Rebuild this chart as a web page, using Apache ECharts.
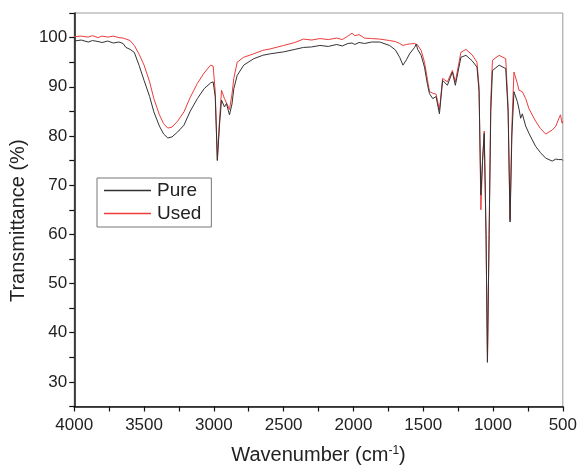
<!DOCTYPE html>
<html>
<head>
<meta charset="utf-8">
<script src="https://cdn.jsdelivr.net/npm/echarts@6/dist/echarts.min.js"></script>
<style>html,body{margin:0;padding:0;background:#fff}#c{width:580px;height:470px}</style>
</head>
<body>
<div id="c"></div>
<script>
// Wavenumber (cm-1), shared by both spectra
var wavenumber = [4000,3950,3900,3870,3830,3800,3760,3720,3680,3650,3630,3600,3570,3535,3500,3460,3430,3390,3360,3330,3300,3260,3214,3170,3118,3070,3023,3005,2990,2975,2960,2945,2924,2910,2888,2870,2857,2833,2786,2715,2650,2596,2500,2420,2358,2300,2240,2180,2120,2080,2040,2010,1990,1960,1920,1870,1812,1741,1700,1669,1645,1620,1598,1562,1550,1540,1515,1491,1470,1455,1432,1408,1384,1361,1327,1291,1270,1230,1194,1150,1115,1100,1087,1075,1063,1050,1040,1028,1016,1004,956,909,892,878,865,850,826,814,802,790,766,742,695,660,623,576,550,529,517,505,500];
var pure = [99.3,99.5,99.1,99.4,99.2,99.0,99.3,98.9,99.1,98.8,98.0,97.6,97.0,94.3,91.3,88.0,84.9,82.0,80.4,79.6,79.8,80.8,82.2,85.0,87.6,89.6,90.8,91.0,88.0,75.0,82.0,87.3,85.9,86.6,84.3,86.5,89.6,92.3,94.4,95.7,96.4,96.7,97.1,97.6,98.0,98.1,98.4,98.2,98.6,98.3,98.8,98.9,98.6,99.0,98.8,99.1,99.1,98.4,97.5,96.0,94.4,95.5,96.7,98.0,98.7,97.6,96.4,94.0,90.5,88.6,87.6,88.0,84.5,91.3,90.3,93.0,90.3,96.0,96.4,95.3,94.0,89.0,68.0,75.0,80.5,60.0,34.0,60.0,85.0,93.3,94.4,93.7,85.0,62.5,80.0,89.0,87.0,85.5,83.6,84.5,82.0,80.5,77.9,76.6,75.5,74.9,75.3,75.2,74.8,75.2,75.0];
var used = [100.2,100.3,100.1,100.4,100.0,100.3,100.1,100.3,100.0,99.9,99.7,99.4,98.4,96.6,94.4,91.0,87.6,84.3,82.5,81.6,81.8,83.0,84.9,87.8,90.7,92.8,94.4,94.2,89.0,75.2,83.0,89.3,87.6,88.0,85.4,88.5,91.7,95.0,96.0,96.7,97.4,97.7,98.4,99.0,99.7,99.5,99.8,99.6,99.9,99.6,100.3,100.9,100.4,100.6,99.9,99.8,99.7,99.4,99.2,98.8,98.4,98.6,98.7,98.8,98.9,98.5,97.4,95.0,91.5,89.0,88.7,88.5,85.3,91.7,91.0,93.3,91.0,97.0,97.6,96.5,95.0,90.0,65.0,75.0,81.0,60.0,34.0,60.0,87.3,95.4,96.4,95.7,86.0,63.0,82.0,93.0,90.7,89.3,89.6,89.0,87.6,85.5,83.0,81.5,80.4,81.2,82.0,83.5,84.3,82.6,83.0];
var seriesNames = ['Pure','Used'];
var xTickLabels = [4000,3500,3000,2500,2000,1500,1000,500];
var yTickLabels = [30,40,50,60,70,80,90,100];

function pairs(vals){ return wavenumber.map(function(w,i){ return [w, vals[i]]; }); }

var chart = echarts.init(document.getElementById('c'), null, {renderer:'canvas'});
var font = 'Liberation Sans, Arial, sans-serif';
chart.setOption({
  animation: false,
  backgroundColor: '#fff',
  grid: {left: 73, right: 16, top: 13, bottom: 62, show: true, borderColor: '#9a9a9a', borderWidth: 1},
  legend: {
    orient: 'vertical', left: 97, top: 178,
    data: seriesNames,
    icon: 'rect', itemWidth: 47, itemHeight: 1.5, itemGap: 4,
    borderColor: '#777', borderWidth: 1, padding: [3, 10, 4, 7],
    textStyle: {fontFamily: font, fontSize: 19, color: '#222', padding: [0, 0, 0, 1]}
  },
  xAxis: {
    type: 'value', inverse: true, min: 500, max: 4000, interval: 250,
    name: '{a|Wavenumber (cm}{s|-1}{a|)}', nameLocation: 'middle', nameGap: 38,
    nameTextStyle: {rich: {a: {fontFamily: font, fontSize: 20, color: '#222'}, s: {fontFamily: font, fontSize: 12, color: '#222', verticalAlign: 'top', padding: [0,0,9,0]}}},
    axisLine: {lineStyle: {color: '#111', width: 1.5}},
    axisTick: {inside: false, length: 5, lineStyle: {color: '#111', width: 1.2}},
    axisLabel: {margin: 10, fontFamily: font, fontSize: 17, color: '#222',
      formatter: function(v){ return xTickLabels.indexOf(v) >= 0 ? String(v) : ''; }},
    splitLine: {show: false}
  },
  yAxis: {
    type: 'value', min: 25, max: 105, interval: 5,
    name: 'Transmittance (%)', nameLocation: 'middle', nameGap: 44,
    nameTextStyle: {fontFamily: font, fontSize: 20, color: '#222', padding: [0, 22, 0, 0]},
    axisLine: {show: true, lineStyle: {color: '#111', width: 1.5}},
    axisTick: {show: true, inside: false, length: 5, lineStyle: {color: '#111', width: 1.2}},
    axisLabel: {margin: 7, fontFamily: font, fontSize: 17, color: '#222',
      formatter: function(v){ return yTickLabels.indexOf(v) >= 0 ? String(v) : ''; }},
    splitLine: {show: false}
  },
  series: [
    {name: seriesNames[0], type: 'line', data: pairs(pure), symbol: 'none', lineStyle: {color: '#333', width: 1}, itemStyle: {color: '#333'}, z: 3},
    {name: seriesNames[1], type: 'line', data: pairs(used), symbol: 'none', lineStyle: {color: '#ee3b3b', width: 1}, itemStyle: {color: '#ee3b3b'}, z: 2}
  ]
});
</script>
</body>
</html>
